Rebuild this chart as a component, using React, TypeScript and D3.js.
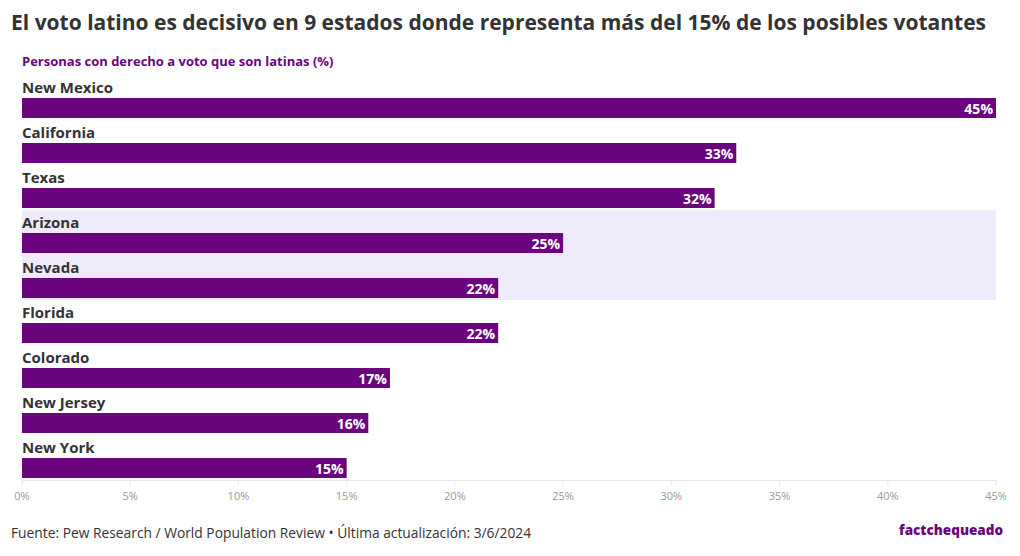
import React from "react";
import * as d3 from "d3";

const states = ["New Mexico", "California", "Texas", "Arizona", "Nevada", "Florida", "Colorado", "New Jersey", "New York"];
const values = [45, 33, 32, 25, 22, 22, 17, 16, 15];
const highlighted = ["Arizona", "Nevada"];
const ticks = [0, 5, 10, 15, 20, 25, 30, 35, 40, 45];

const W = 1020, H = 556;
const FONT = "'Open Sans', sans-serif";
const BAR = "#6a057d";

export default function App() {
  const x = d3.scaleLinear().domain([0, 45]).range([22, 996]);
  const y = d3.scaleBand().domain(states).range([75, 480]).paddingInner(0).paddingOuter(0);
  const step = y.step();
  const barH = 20;
  const hl = highlighted.map((s) => y(s)!);
  const hlTop = d3.min(hl)! + 0;
  const hlBot = d3.max(hl)! + step;
  return (
    <svg width={W} height={H} style={{ position: "absolute", left: 0, top: 0, background: "#fff" }} fontFamily={FONT}>
      <text x={11} y={30} fontSize={21} fontWeight={700} fill="#333">
        El voto latino es decisivo en 9 estados donde representa más del 15% de los posibles votantes
      </text>
      <text x={22} y={66} fontSize={13} fontWeight={700} fill="#6a057d">
        Personas con derecho a voto que son latinas (%)
      </text>
      <rect x={x(0)} y={hlTop} width={x(45) - x(0)} height={hlBot - hlTop} fill="#efebfa" />
      {states.map((s, i) => {
        const top = y(s)!;
        return (
          <g key={s}>
            <text x={22} y={top + 18} fontSize={15} fontWeight={700} fill="#333">{s}</text>
            <rect x={x(0)} y={top + step - barH - 2} width={x(values[i]) - x(0)} height={barH} fill={BAR} />
            <text x={x(values[i]) - 3} y={top + step - 2 - 4} fontSize={14} fontWeight={700} fill="#fff" textAnchor="end">
              {values[i]}%
            </text>
          </g>
        );
      })}
      <line x1={x(0)} x2={x(45)} y1={480.5} y2={480.5} stroke="#e6e6e6" />
      {ticks.map((t) => (
        <g key={t}>
          <line x1={x(t)} x2={x(t)} y1={480} y2={485} stroke="#e6e6e6" />
          <text x={x(t)} y={500} fontSize={11} fill="#999" textAnchor="middle">{t}%</text>
        </g>
      ))}
      <text x={11} y={538} fontSize={13.8} fill="#333">
        Fuente: Pew Research / World Population Review • Última actualización: 3/6/2024
      </text>
      <text x={1003} y={535} fontSize={13.5} fontWeight={800} fill="#6a057d" textAnchor="end">
        factchequeado
      </text>
    </svg>
  );
}
